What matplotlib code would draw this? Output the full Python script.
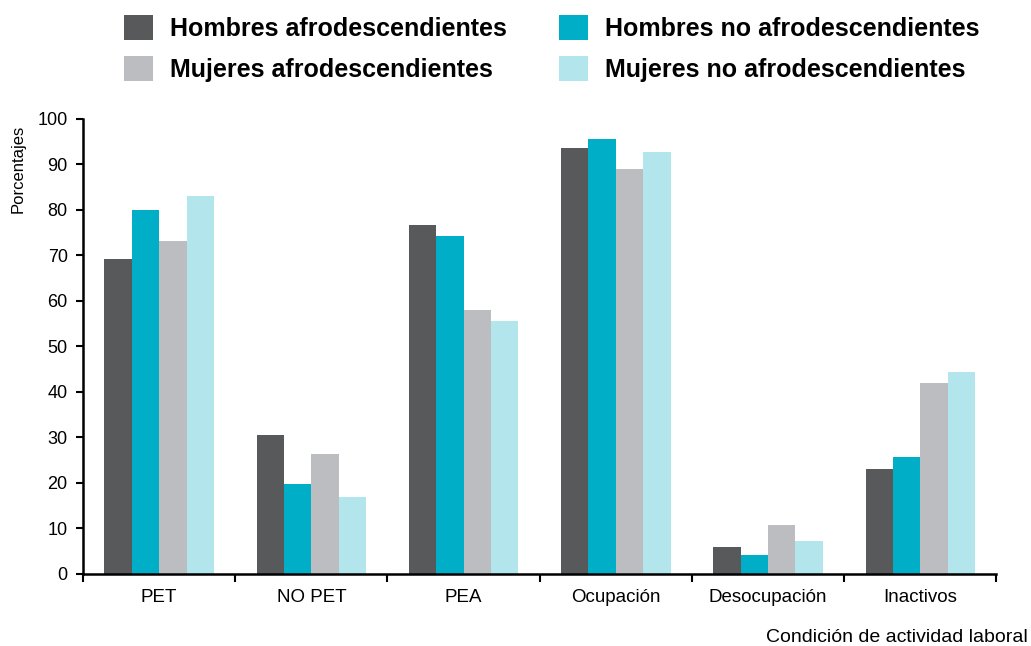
import matplotlib
matplotlib.use('Agg')
import matplotlib.pyplot as plt
import numpy as np
from matplotlib.patches import Patch

plt.rcParams['font.family'] = ['Liberation Sans', 'DejaVu Sans']

categories = ['PET', 'NO PET', 'PEA', 'Ocupación', 'Desocupación', 'Inactivos']
series_names = ['Hombres afrodescendientes', 'Hombres no afrodescendientes',
                'Mujeres afrodescendientes', 'Mujeres no afrodescendientes']
hombres_afro = [69.2, 30.6, 76.7, 93.6, 5.9, 23.1]
hombres_no_afro = [80.0, 19.8, 74.2, 95.6, 4.2, 25.8]
mujeres_afro = [73.1, 26.4, 58.1, 89.0, 10.8, 41.9]
mujeres_no_afro = [83.0, 17.0, 55.5, 92.7, 7.3, 44.5]
colors = ['#58595b', '#00afc7', '#bcbdc0', '#b2e6ec']

values = [hombres_afro, hombres_no_afro, mujeres_afro, mujeres_no_afro]

fig = plt.figure(figsize=(10.31, 6.46), dpi=100)
ax = fig.add_axes([0.0805, 0.1115, 0.886, 0.7043])

x = np.arange(len(categories))
w = 0.18
for i, vals in enumerate(values):
    ax.bar(x + (i - 1.5) * w, vals, width=w, color=colors[i])

ax.set_xlim(-0.5, len(categories) - 0.5)
ax.set_ylim(0, 100)
ax.set_yticks(range(0, 101, 10))
ax.tick_params(axis='y', labelsize=13, length=5, width=1.5, direction='out', pad=6)
ax.set_xticks(np.arange(-0.5, len(categories), 1))
ax.set_xticklabels([])
ax.set_xticks(x, minor=True)
ax.set_xticklabels(categories, minor=True, fontsize=13.5)
ax.tick_params(axis='x', which='major', length=6, width=1.5, direction='out')
ax.tick_params(axis='x', which='minor', length=0, pad=11)

for s in ['top', 'right']:
    ax.spines[s].set_visible(False)
for s in ['left', 'bottom']:
    ax.spines[s].set_linewidth(1.8)

ax.set_ylabel('Porcentajes', fontsize=12)
ax.yaxis.set_label_coords(-0.063, 0.89)
fig.text(0.997, 1 - 638 / 646, 'Condición de actividad laboral', ha='right', va='center', fontsize=14)

order = [0, 2, 1, 3]
handles = [Patch(facecolor=colors[i]) for i in order]
labels = [series_names[i] for i in order]
fig.legend(handles, labels, ncol=2, loc='upper left', bbox_to_anchor=(124 / 1031, 1 - 15 / 646),
           frameon=False, prop={'weight': 'bold', 'size': 18},
           borderpad=0, borderaxespad=0,
           handlelength=1.16, handleheight=1.16, handletextpad=0.7,
           columnspacing=2.05, labelspacing=0.62)

plt.savefig('out.png', dpi=100)
